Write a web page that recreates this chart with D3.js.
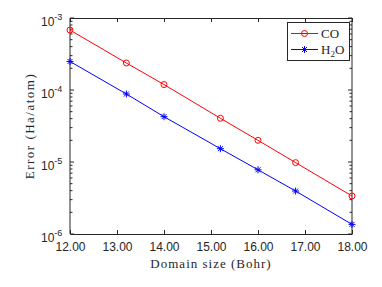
<!DOCTYPE html>
<html>
<head>
<meta charset="utf-8">
<script src="https://cdn.jsdelivr.net/npm/d3@7"></script>
<style>
  body { margin: 0; background: #fff; }
</style>
</head>
<body>
<script>
var domainSize = [12, 13.2, 14, 15.2, 16, 16.8, 18];
var errCO = [6.8e-4, 2.37e-4, 1.19e-4, 4.05e-5, 2.0e-5, 9.8e-6, 3.37e-6];
var errH2O = [2.49e-4, 8.8e-5, 4.26e-5, 1.53e-5, 7.8e-6, 3.95e-6, 1.36e-6];
var xTicks = [12, 13, 14, 15, 16, 17, 18];
var yExponents = [-3, -4, -5, -6];

var width = 382, height = 287;
var margin = {left: 70, right: 30, top: 18, bottom: 53};

var svg = d3.select('body').append('svg')
  .attr('width', width)
  .attr('height', height);

var x = d3.scaleLinear().domain([12, 18]).range([margin.left, width - margin.right]);
var y = d3.scaleLog().domain([1e-6, 1e-3]).range([height - margin.bottom, margin.top]);

var axisColor = '#262626';

// minor log ticks
var minor = [];
for (var e = -6; e < -3; e++) {
  for (var m = 2; m < 10; m++) minor.push(m * Math.pow(10, e));
}

var g = svg.append('g');

// bottom / top axes
g.append('g')
  .attr('transform', 'translate(0,' + y.range()[0] + ')')
  .call(d3.axisBottom(x).tickValues(xTicks).tickSizeInner(-4).tickSizeOuter(0)
    .tickFormat(d3.format('.2f')))
  .call(function(a){
    a.select('.domain').attr('stroke', axisColor);
    a.selectAll('.tick line').attr('stroke', axisColor);
    a.selectAll('.tick text').attr('y', 8).attr('fill', axisColor)
      .style('font-family', 'Liberation Sans, Arial, sans-serif').style('font-size', '12px');
  });

g.append('g')
  .attr('transform', 'translate(0,' + y.range()[1] + ')')
  .call(d3.axisTop(x).tickValues(xTicks).tickSizeInner(-4).tickSizeOuter(0).tickFormat(''))
  .call(function(a){
    a.select('.domain').attr('stroke', axisColor);
    a.selectAll('.tick line').attr('stroke', axisColor);
  });

// left / right axes, major + minor
[['left', x.range()[0], 1], ['right', x.range()[1], -1]].forEach(function(side){
  var ax = g.append('g');
  ax.append('line')
    .attr('x1', side[1]).attr('x2', side[1])
    .attr('y1', y.range()[0]).attr('y2', y.range()[1])
    .attr('stroke', axisColor);
  ax.selectAll('line.major').data(yExponents).enter().append('line')
    .attr('class', 'major')
    .attr('x1', side[1]).attr('x2', side[1] + side[2] * 4)
    .attr('y1', function(d){ return y(Math.pow(10, d)); })
    .attr('y2', function(d){ return y(Math.pow(10, d)); })
    .attr('stroke', axisColor);
  ax.selectAll('line.minor').data(minor).enter().append('line')
    .attr('class', 'minor')
    .attr('x1', side[1]).attr('x2', side[1] + side[2] * 2.5)
    .attr('y1', function(d){ return y(d); })
    .attr('y2', function(d){ return y(d); })
    .attr('stroke', axisColor);
});

// y tick labels 10^n
var yl = g.selectAll('text.ylab').data(yExponents).enter().append('text')
  .attr('class', 'ylab')
  .attr('x', x.range()[0] - 29)
  .attr('y', function(d){ return y(Math.pow(10, d)) + 8; })
  .attr('fill', axisColor)
  .style('font-family', 'Liberation Sans, Arial, sans-serif')
  .style('font-size', '12px');
yl.append('tspan').text('10');
yl.append('tspan').attr('dy', -6).style('font-size', '9px').text(function(d){ return d; });

// axis titles
svg.append('text')
  .attr('x', (x.range()[0] + x.range()[1]) / 2)
  .attr('y', 268)
  .attr('text-anchor', 'middle')
  .attr('fill', axisColor)
  .style('font-family', 'Liberation Serif, serif')
  .style('font-size', '13px')
  .style('letter-spacing', '1px')
  .text('Domain size (Bohr)');

svg.append('text')
  .attr('transform', 'translate(34,' + ((y.range()[0] + y.range()[1]) / 2) + ') rotate(-90)')
  .attr('text-anchor', 'middle')
  .attr('fill', axisColor)
  .style('font-family', 'Liberation Serif, serif')
  .style('font-size', '13px')
  .style('letter-spacing', '1.5px')
  .text('Error (Ha/atom)');

// series
var line = d3.line()
  .x(function(d){ return x(d[0]); })
  .y(function(d){ return y(d[1]); });

var coData = d3.zip(domainSize, errCO);
var h2oData = d3.zip(domainSize, errH2O);

svg.append('path').datum(coData).attr('d', line)
  .attr('fill', 'none').attr('stroke', '#ff0000').attr('stroke-width', 1);
svg.append('path').datum(h2oData).attr('d', line)
  .attr('fill', 'none').attr('stroke', '#0000ff').attr('stroke-width', 1);

svg.selectAll('circle.co').data(coData).enter().append('circle')
  .attr('class', 'co')
  .attr('cx', function(d){ return x(d[0]); })
  .attr('cy', function(d){ return y(d[1]); })
  .attr('r', 3)
  .attr('fill', 'none').attr('stroke', '#ff0000');

function asterisk(sel) {
  sel.attr('d', 'M-3.5,0H3.5M0,-3.5V3.5M-2.5,-2.5L2.5,2.5M-2.5,2.5L2.5,-2.5')
    .attr('fill', 'none').attr('stroke', '#0000ff').attr('stroke-width', 1);
}
svg.selectAll('path.h2o').data(h2oData).enter().append('path')
  .attr('class', 'h2o')
  .attr('transform', function(d){ return 'translate(' + x(d[0]) + ',' + y(d[1]) + ')'; })
  .call(asterisk);

// legend
var lg = svg.append('g');
lg.append('rect')
  .attr('x', 287.5).attr('y', 22.5).attr('width', 62).attr('height', 38)
  .attr('fill', '#fff').attr('stroke', axisColor);
lg.append('line').attr('x1', 291).attr('x2', 318).attr('y1', 33.5).attr('y2', 33.5)
  .attr('stroke', '#ff0000');
lg.append('circle').attr('cx', 304.5).attr('cy', 33.5).attr('r', 3)
  .attr('fill', 'none').attr('stroke', '#ff0000');
lg.append('line').attr('x1', 291).attr('x2', 318).attr('y1', 49.5).attr('y2', 49.5)
  .attr('stroke', '#0000ff');
lg.append('path').attr('transform', 'translate(304.5,49.5)').call(asterisk);

lg.append('text').attr('x', 321).attr('y', 38).attr('fill', axisColor)
  .style('font-family', 'Liberation Serif, serif').style('font-size', '13px')
  .text('CO');
var ht = lg.append('text').attr('x', 321).attr('y', 54).attr('fill', axisColor)
  .style('font-family', 'Liberation Serif, serif').style('font-size', '13px');
ht.append('tspan').text('H');
ht.append('tspan').attr('dy', 3).style('font-size', '9px').text('2');
ht.append('tspan').attr('dy', -3).text('O');
</script>
</body>
</html>
